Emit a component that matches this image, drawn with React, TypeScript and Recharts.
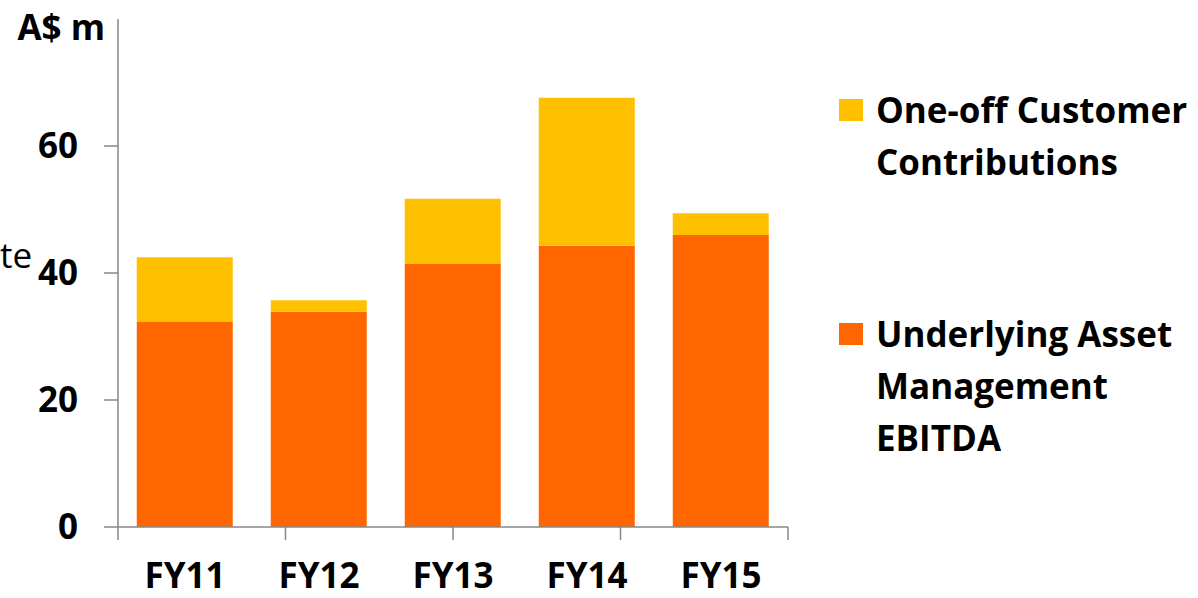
import { Bar, BarChart, Label, XAxis, YAxis } from "recharts";

const years = ["FY11", "FY12", "FY13", "FY14", "FY15"];
const underlyingEbitda = [32.3, 33.9, 41.4, 44.3, 46.0];
const oneOffContributions = [10.2, 1.8, 10.3, 23.3, 3.4];
const yTicks = [0, 20, 40, 60];
const edgeTicks = [0, 1, 2, 3, 4, 5];

const seriesInfo = [
  { key: "oneOff", lines: ["One-off Customer", "Contributions"], color: "#FFC000" },
  { key: "underlying", lines: ["Underlying Asset", "Management", "EBITDA"], color: "#FF6600" },
];

const data = years.map((year, i) => ({
  year,
  underlying: underlyingEbitda[i],
  oneOff: oneOffContributions[i],
}));

const font = "'Open Sans', 'Noto Sans', sans-serif";
const fontSize = 35;
const axisGray = "#878787";

function SideLegend() {
  return (
    <div
      style={{
        position: "absolute",
        left: 839,
        top: 84,
        width: 360,
        fontFamily: font,
        fontWeight: 700,
        fontSize,
        color: "#000",
        whiteSpace: "nowrap",
      }}
    >
      {seriesInfo.map((s, i) => (
        <div key={s.key} style={{ display: "flex", alignItems: "flex-start", marginTop: i === 0 ? 0 : 120 }}>
          <div style={{ width: 24, height: 22, background: s.color, marginTop: 15, marginRight: 13, flexShrink: 0 }} />
          <div style={{ lineHeight: "52px" }}>
            {s.lines.map((l) => (
              <div key={l}>{l}</div>
            ))}
          </div>
        </div>
      ))}
    </div>
  );
}

// tick marks between the categories, drawn by the numeric helper axis
function EdgeTick(props: any) {
  const { x, y, payload } = props;
  if (payload == null || payload.value > 5 || x > 790) return <g />;
  return <line x1={x} x2={x} y1={y - 1} y2={y + 12} stroke={axisGray} strokeWidth={1.5} />;
}

export default function App() {
  return (
    <div style={{ position: "absolute", left: 0, top: 0, width: 1198, height: 598, background: "#fff", overflow: "hidden" }}>
      <BarChart
        width={1198}
        height={598}
        data={data}
        margin={{ top: 19, right: 410, bottom: 69, left: 0 }}
        barCategoryGap="14%"
      >
        <XAxis
          xAxisId="cat"
          dataKey="year"
          height={1}
          tickLine={false}
          tickSize={0}
          tickMargin={36}
          axisLine={{ stroke: axisGray, strokeWidth: 1.5 }}
          tick={{ fontFamily: font, fontWeight: 700, fontSize, fill: "#000" }}
        />
        <XAxis
          xAxisId="edges"
          type="number"
          domain={[0, 5]}
          allowDataOverflow
          ticks={edgeTicks}
          interval={0}
          tick={<EdgeTick />}
          axisLine={false}
          tickLine={false}
          tickSize={0}
          tickMargin={0}
          height={1}
        />
        <YAxis
          width={118}
          domain={[0, 80]}
          ticks={yTicks}
          tickSize={14}
          tickMargin={26}
          axisLine={{ stroke: axisGray, strokeWidth: 1.5 }}
          tickLine={{ stroke: axisGray, strokeWidth: 1.5 }}
          tick={{ fontFamily: font, fontWeight: 700, fontSize, fill: "#000" }}
        >
          <Label
            content={() => (
              <g>
                <text x={105} y={40} textAnchor="end" fontFamily={font} fontWeight={700} fontSize={fontSize} fill="#000">
                  A$ m
                </text>
                <text x={0} y={268} textAnchor="start" fontFamily={font} fontSize={fontSize} fill="#000">
                  te
                </text>
              </g>
            )}
          />
        </YAxis>
        <Bar xAxisId="cat" dataKey="underlying" stackId="a" fill="#FF6600" isAnimationActive={false} />
        <Bar xAxisId="cat" dataKey="oneOff" stackId="a" fill="#FFC000" isAnimationActive={false} />
      </BarChart>
      <SideLegend />
    </div>
  );
}
